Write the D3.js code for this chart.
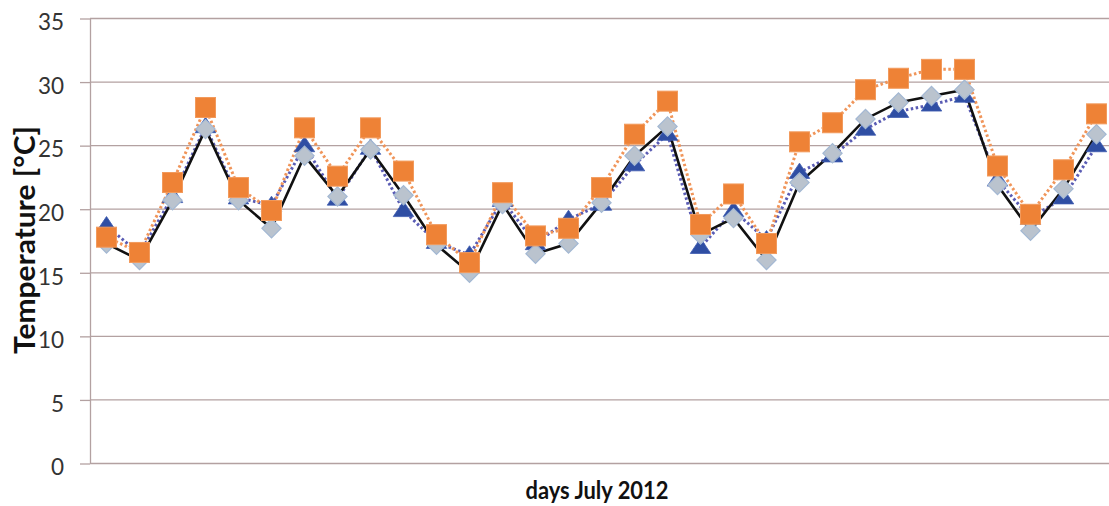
<!DOCTYPE html>
<html>
<head>
<meta charset="utf-8">
<script src="https://cdn.jsdelivr.net/npm/d3@7"></script>
<style>
  html, body { margin: 0; padding: 0; background: #fff; }
  svg { display: block; }
</style>
</head>
<body>
<svg id="chart" width="1109" height="506"></svg>
<script>
// ---- data ----
const days = [1,2,3,4,5,6,7,8,9,10,11,12,13,14,15,16,17,18,19,20,21,22,23,24,25,26,27,28,29,30,31];
const seriesTriangle = [18.7,16.5,21.0,26.5,20.9,20.3,25.0,20.8,24.8,19.9,17.4,16.4,20.7,17.3,19.2,20.4,23.5,25.9,17.0,19.9,17.6,22.9,24.2,26.3,27.7,28.2,28.9,22.3,19.3,20.9,25.0];
const seriesDiamond  = [17.3,16.0,20.7,26.3,20.7,18.5,24.2,21.0,24.7,21.1,17.2,15.0,20.4,16.5,17.3,20.5,24.2,26.5,18.0,19.3,16.0,22.1,24.4,27.1,28.4,28.9,29.4,21.9,18.3,21.6,25.9];
const seriesSquare   = [17.8,16.6,22.1,28.0,21.7,19.9,26.4,22.6,26.4,23.0,18.0,15.8,21.3,17.9,18.5,21.7,25.9,28.5,18.8,21.2,17.3,25.3,26.8,29.4,30.3,31.0,31.0,23.4,19.6,23.1,27.5];
const yTicks = [0,5,10,15,20,25,30,35];
const xTitle = "days July 2012";
const yTitle = "Temperature [°C]";

// ---- layout ----
const svg = d3.select("#chart");
const plotLeft = 90, plotRight = 1113, plotTop = 18.5, plotBottom = 463.5;

const x = d3.scaleBand().domain(days).range([plotLeft, plotRight]).padding(0);
const cx = d => x(d) + x.bandwidth() / 2;
const y = d3.scaleLinear().domain([0, 35]).range([plotBottom, plotTop]);

const gridColor = "#b3a1a1";

// gridlines
svg.append("g").selectAll("line").data(yTicks).join("line")
  .attr("x1", plotLeft).attr("x2", 1109)
  .attr("y1", d => y(d)).attr("y2", d => y(d))
  .attr("stroke", gridColor).attr("stroke-width", 1.3);

// y axis
const yAxis = svg.append("g").attr("transform", `translate(${plotLeft},0)`)
  .call(d3.axisLeft(y).tickValues(yTicks).tickSize(10).tickPadding(16).tickSizeOuter(0));
yAxis.select(".domain").attr("stroke", gridColor).attr("stroke-width", 1.3);
yAxis.selectAll(".tick line").attr("stroke", gridColor).attr("stroke-width", 1.3);
yAxis.selectAll(".tick text")
  .attr("font-family", "Lato, 'Open Sans', sans-serif")
  .attr("font-size", 22.5)
  .attr("fill", "#333")
  .attr("dy", "0.5em");

// titles
svg.append("text")
  .attr("x", 597).attr("y", 499)
  .attr("text-anchor", "middle")
  .attr("font-family", "Lato, sans-serif").attr("font-weight", "bold")
  .attr("font-size", 25).attr("fill", "#111")
  .attr("textLength", 143).attr("lengthAdjust", "spacingAndGlyphs")
  .text(xTitle);

svg.append("text")
  .attr("transform", "translate(35,240) rotate(-90)")
  .attr("text-anchor", "middle")
  .attr("font-family", "Lato, sans-serif").attr("font-weight", "bold")
  .attr("font-size", 28).attr("fill", "#111")
  .attr("textLength", 228).attr("lengthAdjust", "spacingAndGlyphs")
  .text(yTitle);

const plot = svg.append("g");

const line = d3.line().x((d, i) => cx(days[i])).y(d => y(d));

// lines
plot.append("path").datum(seriesTriangle)
  .attr("d", line).attr("fill", "none")
  .attr("stroke", "#5a5cb4").attr("stroke-width", 3)
  .attr("stroke-dasharray", "2.5,2.5");
plot.append("path").datum(seriesSquare)
  .attr("d", line).attr("fill", "none")
  .attr("stroke", "#f0955a").attr("stroke-width", 3)
  .attr("stroke-dasharray", "2.5,2.5");
plot.append("path").datum(seriesDiamond)
  .attr("d", line).attr("fill", "none")
  .attr("stroke", "#111").attr("stroke-width", 2.6);

// markers
const tri = d3.symbol().type(d3.symbolTriangle).size(150);
plot.append("g").selectAll("path").data(seriesTriangle).join("path")
  .attr("d", tri)
  .attr("transform", (d, i) => `translate(${cx(days[i])},${y(d) + 1}) scale(1.1,0.95)`)
  .attr("fill", "#2f4ea3").attr("stroke", "#3f5cb0").attr("stroke-width", 0.8);

plot.append("g").selectAll("rect").data(seriesDiamond).join("rect")
  .attr("x", -6.8).attr("y", -6.8).attr("width", 13.6).attr("height", 13.6)
  .attr("transform", (d, i) => `translate(${cx(days[i])},${y(d)}) rotate(45)`)
  .attr("fill", "#bac3ce").attr("stroke", "#a3b8d3").attr("stroke-width", 1.2);

plot.append("g").selectAll("rect").data(seriesSquare).join("rect")
  .attr("x", -10).attr("y", -10).attr("width", 20).attr("height", 20)
  .attr("transform", (d, i) => `translate(${cx(days[i])},${y(d)})`)
  .attr("fill", "#ee8236").attr("stroke", "#f29a5c").attr("stroke-width", 1);
</script>
</body>
</html>
